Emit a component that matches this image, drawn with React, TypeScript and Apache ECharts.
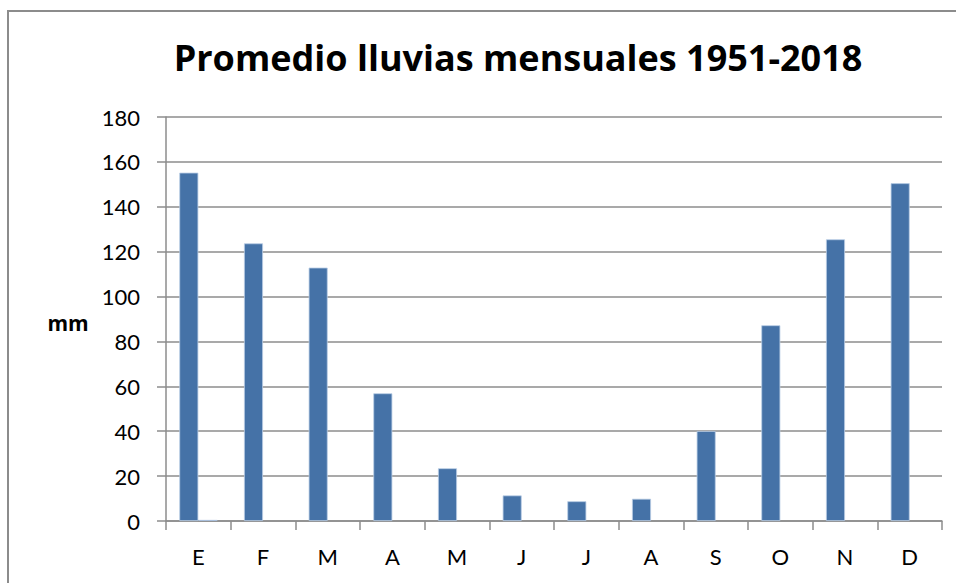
import React, { useEffect, useRef } from "react";
import * as echarts from "echarts";

const TITLE = "Promedio lluvias mensuales 1951-2018";
const Y_LABEL = "mm";
const months = ["E", "F", "M", "A", "M", "J", "J", "A", "S", "O", "N", "D"];
const rainfall = [155.2, 123.7, 112.9, 56.9, 23.5, 11.4, 8.8, 9.9, 40.1, 87.2, 125.5, 150.5];
const secondSeries = [0.5, 0, 0, 0, 0, 0, 0, 0, 0, 0, 0, 0];
const Y_MIN = 0;
const Y_MAX = 180;
const Y_STEP = 20;

const FONT = "Lato, 'Noto Sans', sans-serif";
const TITLE_FONT = "'Open Sans', Lato, sans-serif";
const GREY = "#8c8c8c";
const BAR = "#4572A7";

export default function App() {
  const ref = useRef<HTMLDivElement>(null);
  useEffect(() => {
    if (!ref.current) return;
    const chart = echarts.init(ref.current, null, { renderer: "svg" });
    chart.setOption({
      animation: false,
      backgroundColor: "#ffffff",
      grid: { left: 166, right: 14, top: 117, bottom: 62, containLabel: false },
      graphic: [
        {
          type: "rect",
          shape: { x: 8, y: 11, width: 1200, height: 1000 },
          style: { fill: "none", stroke: GREY, lineWidth: 2 },
          silent: true,
        },
        {
          type: "text",
          x: 518,
          y: 57,
          style: {
            text: TITLE,
            font: `bold 36px ${TITLE_FONT}`,
            fill: "#000",
            textAlign: "center",
            textVerticalAlign: "middle",
          },
        },
        {
          type: "text",
          x: 68,
          y: 323,
          style: {
            text: Y_LABEL,
            font: `bold 21px ${TITLE_FONT}`,
            fill: "#000",
            textAlign: "center",
            textVerticalAlign: "middle",
          },
        },
      ],
      xAxis: {
        type: "category",
        data: months,
        axisLine: { show: true, lineStyle: { color: GREY, width: 1.5 } },
        axisTick: { show: true, length: 9, lineStyle: { color: GREY, width: 1.5 } },
        axisLabel: { color: "#000", fontFamily: FONT, fontSize: 22, margin: 24 },
        splitLine: { show: false },
      },
      yAxis: {
        type: "value",
        min: Y_MIN,
        max: Y_MAX,
        interval: Y_STEP,
        axisLine: { show: true, lineStyle: { color: GREY, width: 1.5 } },
        axisTick: { show: true, length: 9, lineStyle: { color: GREY, width: 1.5 } },
        axisLabel: { color: "#000", fontFamily: FONT, fontSize: 22, margin: 26 },
        splitLine: { show: true, lineStyle: { color: GREY, width: 1.5 } },
      },
      series: [
        {
          type: "bar",
          data: rainfall,
          barWidth: 19,
          barGap: "0%",
          itemStyle: { color: BAR, borderColor: "#b9cde5", borderWidth: 0.8 },
        },
        {
          type: "bar",
          data: secondSeries,
          barWidth: 19,
          barGap: "0%",
          itemStyle: { color: "#a9bfdc", borderWidth: 0 },
        },
      ],
    });
    return () => chart.dispose();
  }, []);
  return (
    <div
      ref={ref}
      style={{ position: "fixed", left: 0, top: 0, width: 956, height: 583, background: "#fff" }}
    />
  );
}
